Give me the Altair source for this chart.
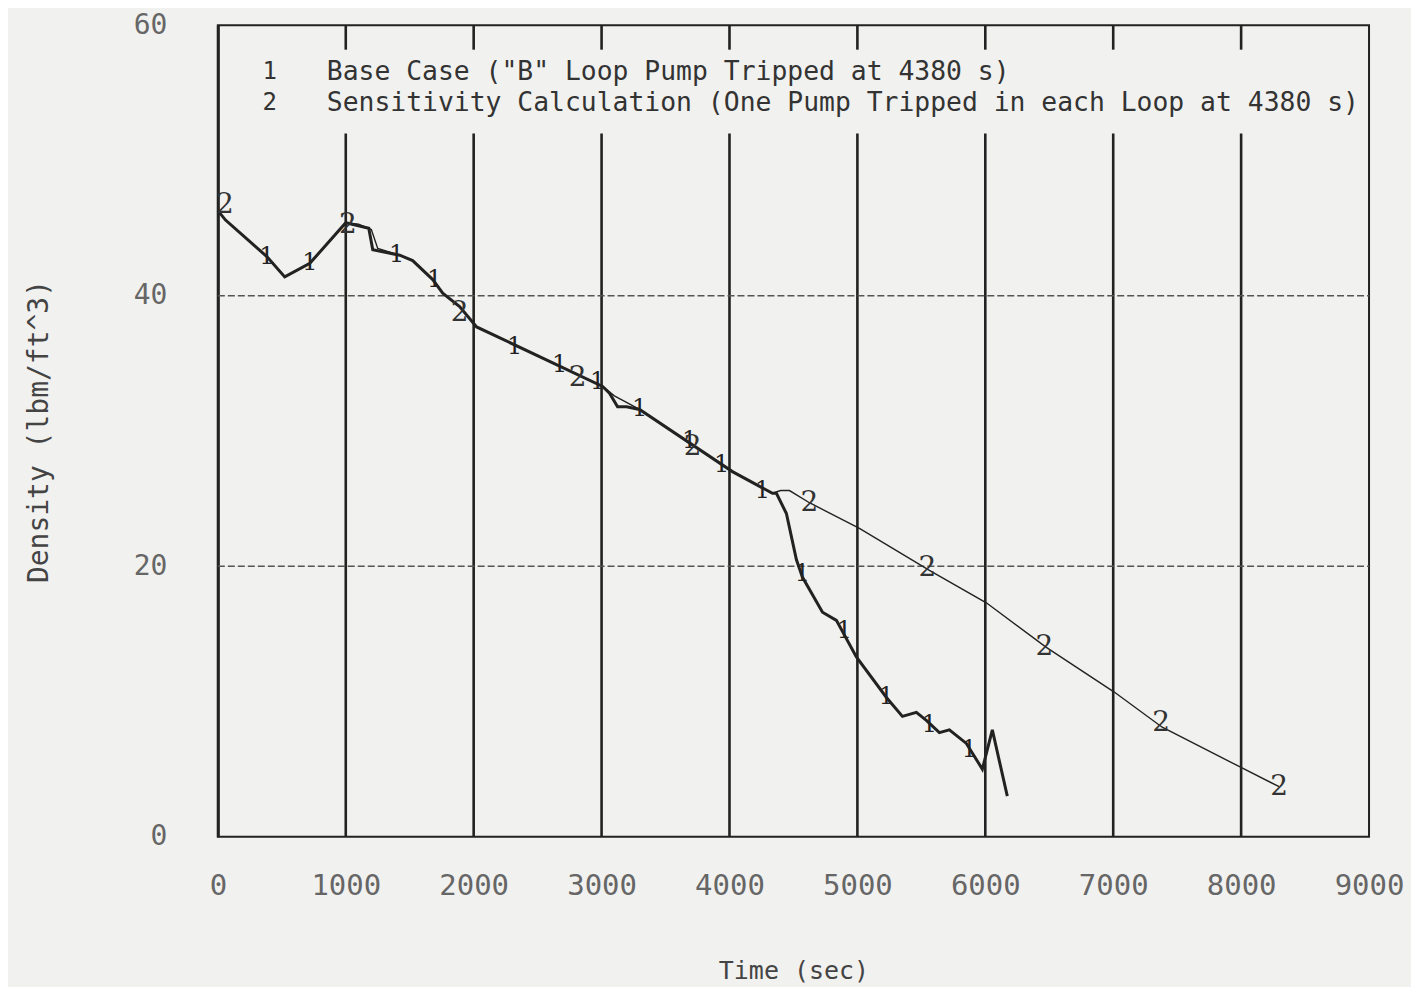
import altair as alt
import pandas as pd

# ---- data ----
s1_time = [0, 60, 383, 523, 719, 1000, 1180, 1211, 1422, 1523, 1680, 1758, 1890, 2023,
           3008, 3062, 3125, 3195, 3297, 4023, 4336, 4367, 4445, 4523, 4570, 4727, 4836,
           4992, 5227, 5352, 5461, 5539, 5641, 5719, 5852, 5977, 6055, 6172]
s1_dens = [46.3, 45.6, 42.9, 41.4, 42.4, 45.4, 45.0, 43.4, 43.0, 42.6, 41.2, 40.2, 39.2, 37.7,
           33.3, 32.8, 31.8, 31.8, 31.6, 27.0, 25.4, 25.4, 23.9, 20.5, 19.2, 16.6, 16.0,
           13.3, 10.3, 8.9, 9.2, 8.6, 7.7, 7.9, 6.9, 5.0, 7.9, 3.0]

s2_time = [0, 60, 383, 523, 719, 1000, 1100, 1200, 1250, 1422, 1523, 1680, 1758, 1890, 2023,
           3008, 3100, 3297, 4023, 4336, 4400, 4469, 4625, 5016, 5563, 6008, 6477, 7008,
           7383, 7984, 8297]
s2_dens = [46.3, 45.6, 42.9, 41.4, 42.4, 45.4, 45.3, 44.9, 43.5, 43.0, 42.6, 41.2, 40.2, 39.2, 37.7,
           33.3, 32.6, 31.6, 27.0, 25.4, 25.6, 25.6, 24.7, 22.8, 19.7, 17.3, 14.0, 10.7,
           8.1, 5.2, 3.7]

m1_time = [383, 719, 1398, 1695, 2320, 2672, 2969, 3297, 3688, 3938, 4258, 4570, 4898, 5227, 5563, 5875]
m1_dens = [42.9, 42.4, 43.0, 41.2, 36.2, 34.9, 33.6, 31.6, 29.3, 27.5, 25.6, 19.4, 15.2, 10.3, 8.3, 6.4]

m2_time = [55, 1016, 1890, 2813, 3711, 4625, 5547, 6461, 7375, 8297]
m2_dens = [46.7, 45.2, 38.7, 33.9, 28.8, 24.7, 19.9, 14.0, 8.4, 3.7]

x_ticks = [0, 1000, 2000, 3000, 4000, 5000, 6000, 7000, 8000, 9000]
x_grid = [1000, 2000, 3000, 4000, 5000, 6000, 7000, 8000]
y_ticks = [0, 20, 40, 60]
y_grid = [20, 40]

legend_ids = ["1", "2"]
legend_labels = ['Base Case ("B" Loop Pump Tripped at 4380 s)',
                 'Sensitivity Calculation (One Pump Tripped in each Loop at 4380 s)']

W, H = 1152, 812
BG = "#f1f1ef"
INK = "#222222"

df1 = pd.DataFrame({"t": s1_time, "d": s1_dens})
df2 = pd.DataFrame({"t": s2_time, "d": s2_dens})
dm1 = pd.DataFrame({"t": m1_time, "d": m1_dens, "s": "1"})
dm2 = pd.DataFrame({"t": m2_time, "d": m2_dens, "s": "2"})
dg = pd.DataFrame({"t": x_grid, "lo": 0, "hi": 52, "tlo": 58.2, "thi": 60})
dh = pd.DataFrame({"d": y_grid})

xs = alt.Scale(domain=[0, 9000], nice=False, zero=False)
ys = alt.Scale(domain=[0, 60], nice=False)

x_axis = alt.Axis(values=x_ticks, title="Time (sec)", grid=False, ticks=False, domain=False,
                  labelFont="DejaVu Sans Mono", labelFontSize=29, labelColor="#666666",
                  labelPadding=35, labelFlush=False, labelOverlap=False,
                  titleFont="DejaVu Sans Mono", titleFontSize=25,
                  titleColor="#444444", titlePadding=58, titleFontWeight="normal",
                  format="d")
y_axis = alt.Axis(values=y_ticks, title="Density (lbm/ft^3)", grid=False, ticks=False,
                  domain=True, domainColor=INK, domainWidth=3,
                  labelFont="DejaVu Sans Mono", labelFontSize=28, labelColor="#666666",
                  labelPadding=51, labelFlush=False,
                  titleFont="DejaVu Sans Mono", titleFontSize=28,
                  titleColor="#444444", titlePadding=80, titleFontWeight="normal")

base_x = alt.X("t:Q", scale=xs, axis=x_axis)
base_y = alt.Y("d:Q", scale=ys, axis=y_axis)

vgrid = alt.Chart(dg).mark_rule(color=INK, strokeWidth=2.6).encode(
    x=base_x, y=alt.Y("lo:Q", scale=ys, axis=y_axis), y2="hi:Q")
topticks = alt.Chart(dg).mark_rule(color=INK, strokeWidth=2.6).encode(
    x=base_x, y=alt.Y("tlo:Q", scale=ys, axis=y_axis), y2="thi:Q")
hgrid = alt.Chart(dh).mark_rule(color="#555555", strokeWidth=1.4, strokeDash=[7, 3]).encode(
    y=base_y, x=alt.value(0), x2=alt.value(W))

line2 = alt.Chart(df2).mark_line(color=INK, strokeWidth=1.4).encode(
    x=base_x, y=base_y, order="t:Q")
line1 = alt.Chart(df1).mark_line(color=INK, strokeWidth=3).encode(
    x=base_x, y=base_y, order="t:Q")

mk1 = alt.Chart(dm1).mark_text(font="DejaVu Serif", fontSize=24, color=INK,
                               baseline="middle", align="center").encode(
    x=base_x, y=base_y, text="s:N")
mk2 = alt.Chart(dm2).mark_text(font="DejaVu Serif", fontSize=28, color="#333333",
                               baseline="middle", align="center").encode(
    x=base_x, y=base_y, text="s:N")

legend_layers = []
for i, (lid, lab) in enumerate(zip(legend_ids, legend_labels)):
    ypix = [47, 78][i]
    dli = pd.DataFrame({"id": [lid], "label": [lab]})
    legend_layers.append(
        alt.Chart(dli).mark_text(font="DejaVu Sans Mono", fontSize=24, color="#333333",
                                 align="center", baseline="middle").encode(
            x=alt.value(52), y=alt.value(ypix), text="id:N"))
    legend_layers.append(
        alt.Chart(dli).mark_text(font="DejaVu Sans Mono", fontSize=26.4, color="#333333",
                                 align="left", baseline="middle").encode(
            x=alt.value(109), y=alt.value(ypix), text="label:N"))

chart = alt.layer(vgrid, topticks, hgrid, line2, line1, mk1, mk2, *legend_layers).properties(
    width=W, height=H,
    autosize=alt.AutoSizeParams(type="none"),
    padding={"left": 210, "top": 17, "right": 42, "bottom": 150},
    background=BG,
).configure_view(stroke=INK, strokeWidth=2, fill=BG)

chart.save("out.html", embed_options={"renderer": "svg", "actions": False})
